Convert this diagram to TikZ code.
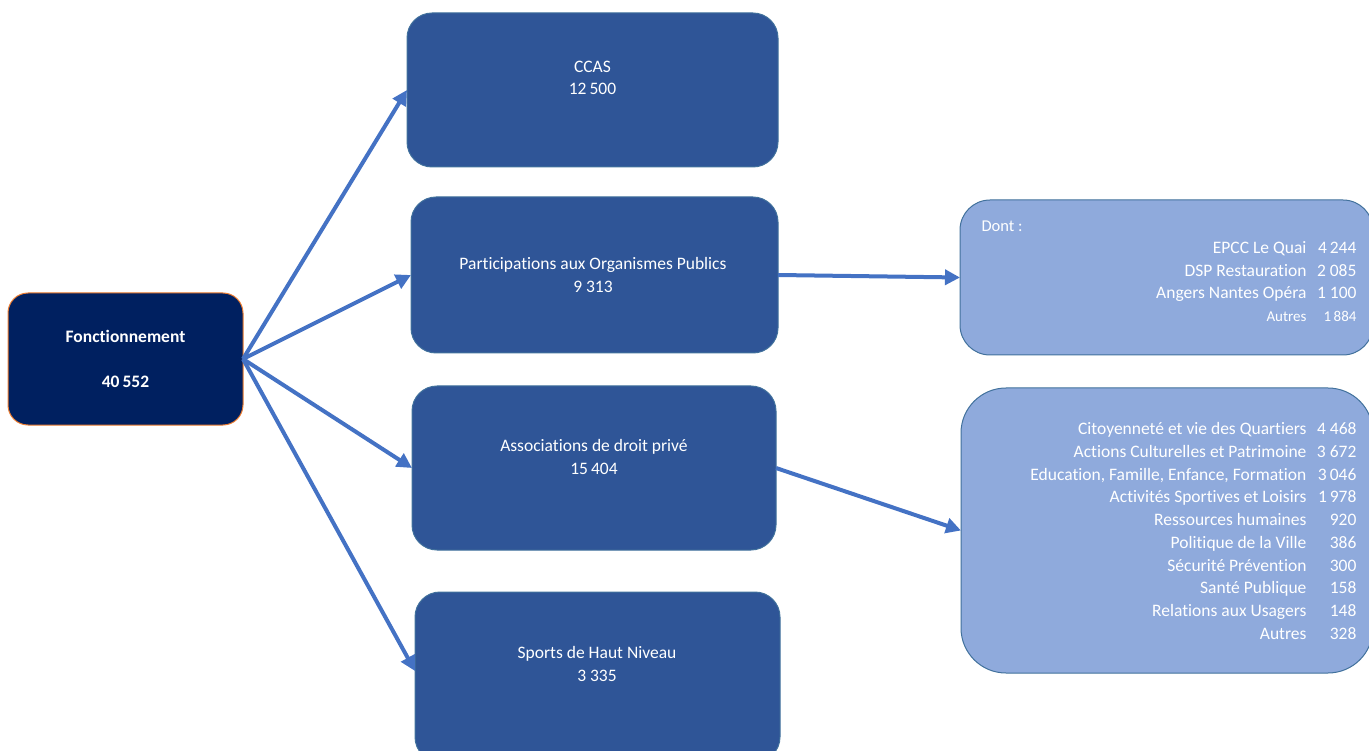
\documentclass[tikz,border=0pt]{standalone}
\usepackage{fontspec}
\setmainfont{Carlito}[Ligatures=NoCommon]
\usetikzlibrary{arrows.meta}

\definecolor{navy}{HTML}{002060}
\definecolor{edgeorange}{HTML}{ED7D31}
\definecolor{boxblue}{HTML}{2F5597}
\definecolor{boxedge}{HTML}{41719C}
\definecolor{paleblue}{HTML}{8FAADC}
\definecolor{arrowblue}{HTML}{4472C4}

\newcommand{\amt}[1]{\makebox[50pt][r]{#1}}

\tikzset{
  mainbox/.style={draw=edgeorange, line width=1pt, fill=navy, rounded corners=20pt,
    inner sep=0pt, outer sep=0pt, minimum width=235pt, minimum height=132pt},
  itembox/.style={draw=boxedge, line width=1pt, fill=boxblue, rounded corners=25pt,
    inner sep=0pt, outer sep=0pt},
  detailbox/.style={draw=boxedge, line width=1pt, fill=paleblue,
    inner sep=0pt, outer sep=0pt},
  boxtext/.style={text=white, align=center, font=\fontsize{17.5}{22.5}\selectfont},
  flow/.style={arrowblue, line width=4pt, -{Triangle[length=15pt,width=15pt]}}
}

\begin{document}
\begin{tikzpicture}[x=1pt,y=-1pt]
\useasboundingbox (0,0) rectangle (1369,751);

\node[mainbox] (fonc) at (125.5,359) {};
\node[boxtext, font=\fontsize{17.5}{22.5}\selectfont\bfseries] (fonctext) at (125.5,358.5) {Fonctionnement\\[22.5pt]40\,552};

\node[itembox, minimum width=371pt, minimum height=154pt] (ccas) at (592.5,90) {};
\node[boxtext] (ccastext) at (592.5,78) {CCAS\\12\,500};

\node[itembox, minimum width=367pt, minimum height=156pt] (part) at (594.5,275) {};
\node[boxtext] (parttext) at (593,275) {Participations aux Organismes Publics\\9 313};

\node[itembox, minimum width=364pt, minimum height=164pt] (assoc) at (594,468) {};
\node[boxtext] (assoctext) at (594,457) {Associations de droit priv\'e\\15\,404};

\node[itembox, minimum width=365pt, minimum height=170pt] (sports) at (597.5,677) {};
\node[boxtext] (sportstext) at (597,664) {Sports de Haut Niveau\\3 335};

\node[detailbox, rounded corners=30pt, minimum width=413pt, minimum height=155pt] (dont) at (1166.5,277.5) {};
\node[text=white, anchor=west, font=\fontsize{16.5}{20}\selectfont] (donttitle) at (978,226) {Dont :};
\node[text=white, anchor=east, font=\fontsize{17.5}{22.7}\selectfont] (dontlist) at (1360,283) {%
  \begin{tabular}{@{}r@{}r@{}}
  EPCC Le Quai & \amt{4\,244}\\
  DSP Restauration & \amt{2 085}\\
  Angers Nantes Op\'era & \amt{1 100}\\
  {\fontsize{15}{18}\selectfont Autres} & \amt{\fontsize{15}{18}\selectfont 1\,884}\\
  \end{tabular}};

\node[detailbox, rounded corners=45pt, minimum width=412pt, minimum height=285pt] (detail) at (1167,530.5) {};
\node[text=white, anchor=east, font=\fontsize{17.5}{22.7}\selectfont] (detaillist) at (1360,532.5) {%
  \begin{tabular}{@{}r@{}r@{}}
  Citoyennet\'e et vie des Quartiers & \amt{4 468}\\
  Actions Culturelles et Patrimoine & \amt{3 672}\\
  Education, Famille, Enfance, Formation & \amt{3\,046}\\
  Activit\'es Sportives et Loisirs & \amt{1\,978}\\
  Ressources humaines & \amt{920}\\
  Politique de la Ville & \amt{386}\\
  S\'ecurit\'e Pr\'evention & \amt{300}\\
  Sant\'e Publique & \amt{158}\\
  Relations aux Usagers & \amt{148}\\
  Autres & \amt{328}\\
  \end{tabular}};

\draw[flow] (fonc.east) -- (ccas.west);
\draw[flow] (fonc.east) -- (part.west);
\draw[flow] (fonc.east) -- (assoc.west);
\draw[flow] (fonc.east) -- ([yshift=6pt]sports.west);
\draw[flow] (part.east) -- (dont.west);
\draw[flow] (assoc.east) -- (detail.west);

\end{tikzpicture}
\end{document}
